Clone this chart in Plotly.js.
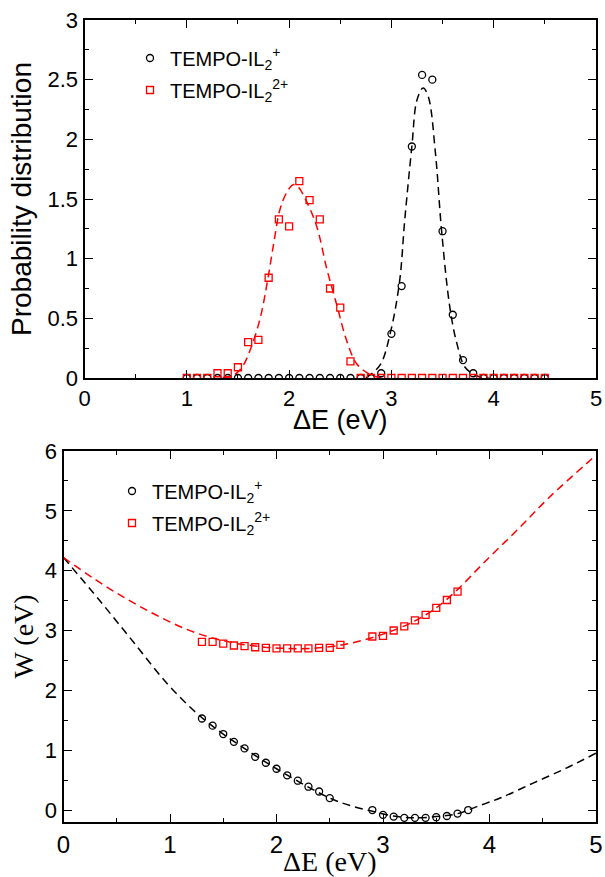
<!DOCTYPE html>
<html>
<head>
<meta charset="utf-8">
<script src="https://cdn.plot.ly/plotly-3.0.1.min.js"></script>
<style>html,body{margin:0;padding:0;background:#fff;}#chart{width:605px;height:877px;}</style>
</head>
<body>
<div id="chart"></div>
<script>
// ---------- Top panel: probability distribution ----------
const topX = [1.0,1.1,1.2,1.3,1.4,1.5,1.6,1.7,1.8,1.9,2.0,2.1,2.2,2.3,2.4,2.5,2.6,2.7,2.8,2.9,3.0,3.1,3.2,3.3,3.4,3.5,3.6,3.7,3.8,3.9,4.0,4.1,4.2,4.3,4.4,4.5];
const topPlus = [0,0,0,0,0,0,0,0,0,0,0,0,0,0,0,0,0,0,0,0.04,0.37,0.77,1.94,2.54,2.50,1.23,0.53,0.15,0.04,0,0,0,0,0,0,0];
const top2Plus = [0,0,0,0.04,0.04,0.09,0.30,0.32,0.84,1.33,1.27,1.65,1.49,1.33,0.75,0.59,0.14,0,0,0,0,0,0,0,0,0,0,0,0,0,0,0,0,0,0,0];
const fitPlusX = [2.75,2.89,2.99,3.08,3.13,3.20,3.25,3.31,3.36,3.43,3.49,3.57,3.64,3.72,3.83,3.95];
const fitPlusY = [0.0,0.11,0.38,0.81,1.32,1.94,2.33,2.43,2.36,1.89,1.24,0.60,0.29,0.09,0.02,0.0];
const fit2PlusX = [1.35,1.45,1.54,1.63,1.72,1.79,1.85,1.91,1.98,2.04,2.09,2.17,2.27,2.37,2.47,2.56,2.66,2.79,2.90];
const fit2PlusY = [0.0,0.02,0.09,0.26,0.51,0.82,1.13,1.41,1.56,1.62,1.60,1.48,1.27,0.91,0.60,0.32,0.12,0.03,0.0];

// ---------- Bottom panel: W vs ΔE ----------
const botPlusX = [1.3,1.4,1.5,1.6,1.7,1.8,1.9,2.0,2.1,2.2,2.3,2.4,2.5,2.9,3.0,3.1,3.2,3.3,3.4,3.5,3.6,3.7,3.8];
const botPlusY = [1.53,1.41,1.27,1.14,1.03,0.89,0.79,0.69,0.58,0.49,0.39,0.31,0.20,0.0,-0.08,-0.11,-0.13,-0.13,-0.13,-0.12,-0.10,-0.06,0.0];
const bot2PlusX = [1.3,1.4,1.5,1.6,1.7,1.8,1.9,2.0,2.1,2.2,2.3,2.4,2.5,2.6,2.9,3.0,3.1,3.2,3.3,3.4,3.5,3.6,3.7];
const bot2PlusY = [2.81,2.81,2.78,2.75,2.74,2.72,2.71,2.70,2.70,2.70,2.70,2.71,2.71,2.76,2.90,2.91,3.00,3.07,3.17,3.26,3.38,3.51,3.65];
const wFitPlusX = [0,0.34,0.66,0.97,1.25,1.5,2.0,2.5,2.7,2.9,3.1,3.3,3.5,3.7,3.9,4.1,4.41,4.72,5.0];
const wFitPlusY = [4.22,3.50,2.80,2.12,1.62,1.27,0.69,0.20,0.07,-0.02,-0.10,-0.13,-0.11,-0.06,0.07,0.20,0.45,0.70,0.95];
const wFit2PlusX = [0,0.3,0.6,0.9,1.2,1.5,1.8,2.1,2.4,2.7,3.0,3.3,3.5,3.68,3.94,4.26,4.57,5.0];
const wFit2PlusY = [4.22,3.85,3.52,3.23,2.99,2.83,2.74,2.70,2.71,2.79,2.94,3.16,3.38,3.65,4.12,4.68,5.24,5.93];

const labelPlus = 'TEMPO-IL<sub>2</sub><sup>+</sup>';
const label2Plus = 'TEMPO-IL<sub>2</sub><sup>2+</sup>';
const topXTitle = 'ΔE (eV)';
const topYTitle = 'Probability distribution';
const botXTitle = 'ΔE (eV)';
const botYTitle = 'W (eV)';

const SANS = 'Liberation Sans, Arial, Helvetica, sans-serif';
const SERIF = 'Liberation Serif, Times New Roman, serif';
const dashStyle = '8px,5px';

const circ = {symbol:'circle-open', size:7, color:'#000', line:{width:1.3, color:'#000'}};
const sq = {symbol:'square-open', size:7, color:'#ff0000', line:{width:1.3, color:'#ff0000'}};

const traces = [
  {x:fitPlusX, y:fitPlusY, xaxis:'x', yaxis:'y', mode:'lines', line:{color:'#000', width:1.5, dash:dashStyle, shape:'spline'}, showlegend:false, hoverinfo:'skip'},
  {x:fit2PlusX, y:fit2PlusY, xaxis:'x', yaxis:'y', mode:'lines', line:{color:'#ff0000', width:1.5, dash:dashStyle, shape:'spline'}, showlegend:false, hoverinfo:'skip'},
  {x:topX, y:topPlus, xaxis:'x', yaxis:'y', mode:'markers', marker:circ, name:labelPlus, legend:'legend'},
  {x:topX, y:top2Plus, xaxis:'x', yaxis:'y', mode:'markers', marker:sq, name:label2Plus, legend:'legend3'},

  {x:wFitPlusX, y:wFitPlusY, xaxis:'x2', yaxis:'y2', mode:'lines', line:{color:'#000', width:1.5, dash:dashStyle, shape:'spline'}, showlegend:false, hoverinfo:'skip'},
  {x:wFit2PlusX, y:wFit2PlusY, xaxis:'x2', yaxis:'y2', mode:'lines', line:{color:'#ff0000', width:1.5, dash:dashStyle, shape:'spline'}, showlegend:false, hoverinfo:'skip'},
  {x:botPlusX, y:botPlusY, xaxis:'x2', yaxis:'y2', mode:'markers', marker:circ, name:labelPlus, legend:'legend2'},
  {x:bot2PlusX, y:bot2PlusY, xaxis:'x2', yaxis:'y2', mode:'markers', marker:sq, name:label2Plus, legend:'legend4'}
];

function axisBase(extra){
  return Object.assign({
    showline:true, linewidth:2, linecolor:'#000', mirror:'allticks',
    ticks:'inside', ticklen:8, tickwidth:1, tickcolor:'#000',
    showgrid:false, zeroline:false, fixedrange:true,
    tickfont:{family:SANS, size:22, color:'#000'}
  }, extra);
}
function leg(xpx, ypx){
  return {x:xpx/W, y:1-ypx/H, xanchor:'left', yanchor:'middle', bgcolor:'rgba(0,0,0,0)', borderwidth:0,
    font:{family:SANS, size:20, color:'#000'}};
}

const W = 605, H = 877;
const topDomX = [84.5/W, 596/W];
const layout = {
  width:W, height:H,
  margin:{l:0, r:0, t:0, b:0},
  paper_bgcolor:'#fff', plot_bgcolor:'#fff',
  font:{family:SANS, color:'#000'},
  xaxis: axisBase({domain:topDomX, anchor:'y', range:[0,5], tick0:0, dtick:1,
    minor:{dtick:0.5, ticks:'inside', ticklen:4, tickwidth:1, tickcolor:'#000'}}),
  yaxis: axisBase({domain:[1-378/H, 1-20/H], anchor:'x', range:[0,3], tick0:0, dtick:0.5,
    minor:{dtick:0.25, ticks:'inside', ticklen:4, tickwidth:1, tickcolor:'#000'},
    title:{text:topYTitle, font:{family:SANS, size:28, color:'#000'}, standoff:8}}),
  xaxis2: axisBase({domain:[63.5/W, 596/W], anchor:'y2', range:[0,5], tick0:0, dtick:1,
    minor:{dtick:0.5, ticks:'inside', ticklen:4, tickwidth:1, tickcolor:'#000'},
    tickfont:{family:SANS, size:24, color:'#000'},
    title:{text:botXTitle, font:{family:SERIF, size:28, color:'#000'}, standoff:0}}),
  yaxis2: axisBase({domain:[1-822/H, 1-451/H], anchor:'x2', range:[-0.2,6], tick0:0, dtick:1,
    minor:{dtick:0.5, ticks:'inside', ticklen:4, tickwidth:1, tickcolor:'#000'},
    title:{text:botYTitle, font:{family:SERIF, size:28, color:'#000'}, standoff:3}}),
  annotations:[
    {text:topXTitle, xref:'paper', yref:'paper', x:(topDomX[0]+topDomX[1])/2, y:1-420/H,
     xanchor:'center', yanchor:'middle', showarrow:false, font:{family:SANS, size:27, color:'#000'}}
  ],
  legend: leg(130, 58),
  legend3: leg(130, 90),
  legend2: leg(112, 491),
  legend4: leg(112, 523),
  showlegend:true
};

Plotly.newPlot('chart', traces, layout, {displayModeBar:false, staticPlot:true});
</script>
</body>
</html>
